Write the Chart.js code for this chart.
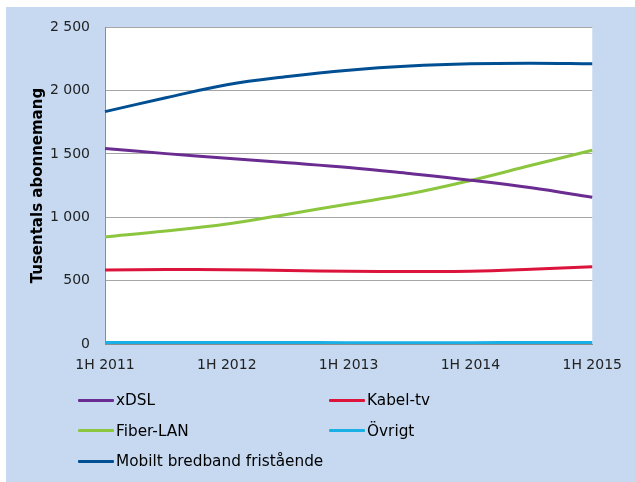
<!DOCTYPE html>
<html lang="sv">
<head>
  <meta charset="UTF-8">
  <title>Bredbandsabonnemang</title>
  <script src="https://cdn.jsdelivr.net/npm/chart.js"></script>
  <style>
    html, body { margin: 0; padding: 0; background: #fff; }
    #wrap { position: relative; width: 635px; height: 482px; }
    #legend {
      position: absolute; left: 78px; top: 385px;
      display: grid; grid-template-columns: 251px auto; grid-auto-rows: 30.5px;
      font-family: 'DejaVu Sans', Verdana, sans-serif; font-size: 15.3px; color: #000;
    }
    #legend .item { display: flex; align-items: center; }
    #legend .line { width: 36px; height: 3px; margin-right: 2px; border-radius: 1px; }
  </style>
</head>
<body>
  <div id="wrap">
    <canvas id="bbChart" width="635" height="482"></canvas>
    <div id="legend"></div>
  </div>

  <script>
    // halvår, etikett visas för varje 1H
    const categories = ['1H 2011', '2H 2011', '1H 2012', '2H 2012', '1H 2013', '2H 2013', '1H 2014', '2H 2014', '1H 2015'];
    const xdsl = [1543, 1502, 1465, 1430, 1393, 1345, 1293, 1233, 1158];
    const kabeltv = [585, 588, 587, 580, 574, 573, 575, 590, 610];
    const fiberlan = [845, 892, 948, 1025, 1105, 1185, 1290, 1410, 1528];
    const ovrigt = [14, 14, 13, 13, 12, 12, 12, 13, 14];
    const mobilt = [1833, 1942, 2045, 2110, 2160, 2193, 2210, 2214, 2210];
    const yTicks = [0, 500, 1000, 1500, 2000, 2500];

    const bg = {
      id: 'bg',
      beforeDraw(chart) {
        const c = chart.ctx, a = chart.chartArea;
        c.save();
        c.fillStyle = '#c6d9f1';
        c.fillRect(6, 7, chart.width - 6, chart.height - 7);
        c.fillStyle = '#fff';
        c.fillRect(a.left, a.top, a.right - a.left, a.bottom - a.top);
        c.restore();
      }
    };

    function line(label, data, color) {
      return { label, data, borderColor: color, backgroundColor: color, borderWidth: 3,
        pointRadius: 0, tension: 0.4, fill: false };
    }

    const chart = new Chart(document.getElementById('bbChart'), {
      type: 'line',
      data: {
        labels: categories,
        datasets: [
          line('xDSL', xdsl, '#6a2c91'),
          line('Kabel-tv', kabeltv, '#dc143c'),
          line('Fiber-LAN', fiberlan, '#8cc63f'),
          line('Övrigt', ovrigt, '#1ab0e6'),
          line('Mobilt bredband fristående', mobilt, '#004f93')
        ]
      },
      plugins: [bg],
      options: {
        responsive: false,
        animation: false,
        layout: { padding: { left: 18, right: 39, top: 27, bottom: 95 } },
        plugins: { legend: { display: false }, tooltip: { enabled: false } },
        scales: {
          x: {
            offset: false,
            grid: { display: false, drawTicks: false },
            border: { color: '#8c8c8c' },
            ticks: {
              autoSkip: false, maxRotation: 0, padding: 13, color: '#222',
              font: { family: 'DejaVu Sans', size: 14 },
              callback: (v, i) => (i % 2 === 0 ? categories[i] : '')
            }
          },
          y: {
            min: 0, max: 2500,
            afterFit: s => { s.width = 87; },
            afterBuildTicks: s => { s.ticks = yTicks.map(v => ({ value: v })); },
            grid: { color: '#a6a6a6', drawTicks: false },
            border: { color: '#8c8c8c' },
            ticks: {
              padding: 15, color: '#222',
              font: { family: 'DejaVu Sans', size: 14 },
              callback: v => String(v).replace(/\B(?=(\d{3})+(?!\d))/g, ' ')
            },
            title: {
              display: true, text: 'Tusentals abonnemang', color: '#000',
              padding: { top: 11, bottom: 0 },
              font: { family: 'DejaVu Sans', size: 15, weight: 'bold' }
            }
          }
        }
      }
    });

    const legend = document.getElementById('legend');
    chart.data.datasets.forEach(ds => {
      const item = document.createElement('div');
      item.className = 'item';
      item.innerHTML = '<span class="line" style="background:' + ds.borderColor + '"></span><span>' + ds.label + '</span>';
      legend.appendChild(item);
    });
  </script>
</body>
</html>
